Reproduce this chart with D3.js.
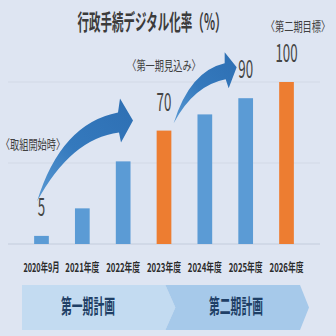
<!DOCTYPE html>
<html>
<head>
<meta charset="utf-8">
<script src="https://cdn.jsdelivr.net/npm/d3@7"></script>
<style>
  html, body { margin: 0; padding: 0; background: #dee5f2; }
  svg { display: block; }
  text { font-family: "Noto Sans CJK JP", "Noto Sans", sans-serif; }
</style>
</head>
<body>
<svg id="chart" width="336" height="336"></svg>
<script>
// Fiscal periods and digitisation rate (%)
const categories = ["2020年9月", "2021年度", "2022年度", "2023年度", "2024年度", "2025年度", "2026年度"];
const rates = [5, 22, 51, 70, 80, 90, 100];
// Milestone bars (highlighted) and their value labels
const milestones = ["2023年度", "2026年度"];
const labelled = ["2020年9月", "2023年度", "2025年度", "2026年度"];
const gridTicks = [0, 50, 100];
const notes = [
  { cat: "2020年9月", text: "〈取組開始時〉" },
  { cat: "2023年度", text: "〈第一期見込み〉" },
  { cat: "2026年度", text: "〈第二期目標〉" }
];
const phases = ["第一期計画", "第二期計画"];
const title = "行政手続デジタル化率（%）";

const W = 336, H = 336;
const svg = d3.select("#chart");

svg.append("rect").attr("width", W).attr("height", H).attr("fill", "#dee5f2");

const x = d3.scaleBand().domain(categories).range([8, 320]).padding(0.64);
const y = d3.scaleLinear().domain([0, 100]).range([244, 82]);
const cx = c => x(c) + x.bandwidth() / 2;

// Draws narrow (condensed) text: centred on (px, py), squeezed to width w.
function condensed(sel, px, py, w) {
  sel.attr("text-anchor", "middle").attr("x", 0).attr("y", 0);
  sel.each(function (d, i) {
    const node = d3.select(this);
    const natural = this.getComputedTextLength();
    const ww = typeof w === "function" ? w(d, i) : w;
    const xx = typeof px === "function" ? px(d, i) : px;
    const yy = typeof py === "function" ? py(d, i) : py;
    node.attr("transform", `translate(${xx},${yy}) scale(${ww / natural},1)`);
  });
  return sel;
}

// Title
svg.append("text")
  .attr("font-size", 22).attr("font-weight", 700)
  .attr("fill", "#3b3b3b")
  .text(title)
  .call(condensed, 152, 30, 149);

// Gridlines
svg.append("g").selectAll("line").data(gridTicks).join("line")
  .attr("x1", 8).attr("x2", 320)
  .attr("y1", d => y(d)).attr("y2", d => y(d))
  .attr("stroke", d => d === 0 ? "#c3ccdc" : "#d2d9e6")
  .attr("stroke-width", 1);

// Bars
const byCat = new Map(categories.map((c, i) => [c, rates[i]]));
svg.append("g").selectAll("rect").data(categories).join("rect")
  .attr("x", d => x(d))
  .attr("width", x.bandwidth())
  .attr("y", d => y(byCat.get(d)))
  .attr("height", d => y(0) - y(byCat.get(d)))
  .attr("fill", d => milestones.includes(d) ? "#ed7d31" : "#5b9bd5");

// Progress arrows between milestones
const defs = svg.append("defs");
const grad = defs.append("linearGradient").attr("id", "arrowFill")
  .attr("x1", "0").attr("y1", "1").attr("x2", "1").attr("y2", "0");
grad.append("stop").attr("offset", "0%").attr("stop-color", "#5a9ad4");
grad.append("stop").attr("offset", "45%").attr("stop-color", "#3479bd");
grad.append("stop").attr("offset", "100%").attr("stop-color", "#2e6fb3");

function arrow(tx, ty, s) {
  // s: offsets relative to the arrow tip
  const p = (k) => [tx + s[k][0], ty + s[k][1]];
  const t = p("tail"), uc = p("uc"), ub = p("ub"), ht = p("ht"), hb = p("hb"), lb = p("lb"), lc = p("lc");
  return `M${t}Q${uc} ${ub}L${ht}L${tx},${ty}L${hb}L${lb}Q${lc} ${t}Z`;
}
const arrowShapes = [
  { tip: [cx("2023年度") - 31, y(70) - 10],
    s: { tail: [-96, 81], uc: [-72, 3], ub: [-15, -8], ht: [-13, -22], hb: [-12, 22], lb: [-14, 12], lc: [-62, 18] } },
  { tip: [cx("2025年度") - 9, y(90) - 31],
    s: { tail: [-63, 56], uc: [-47, 4], ub: [-12, -4], ht: [-12, -15], hb: [-8, 21], lb: [-11, 12], lc: [-43, 18] } }
];
svg.append("g").selectAll("path").data(arrowShapes).join("path")
  .attr("d", d => arrow(d.tip[0], d.tip[1], d.s))
  .attr("fill", "url(#arrowFill)");

// Value labels
svg.append("g").selectAll("text").data(labelled).join("text")
  .attr("font-size", 25)
  .attr("fill", "#454545")
  .text(d => byCat.get(d))
  .call(condensed, d => cx(d), d => y(byCat.get(d)) - 20, d => String(byCat.get(d)).length * 7.4);

// Milestone notes
const noteY = { "2020年9月": 149, "2023年度": 70, "2026年度": 31 };
const noteX = { "2020年9月": 33, "2023年度": 164, "2026年度": 298 };
svg.append("g").selectAll("text").data(notes).join("text")
  .attr("font-size", 13)
  .attr("fill", "#404040")
  .text(d => d.text)
  .call(condensed, d => noteX[d.cat], d => noteY[d.cat], d => d.text.length * 9.2);

// Category axis labels
svg.append("g").selectAll("text").data(categories).join("text")
  .attr("font-size", 12).attr("font-weight", 700)
  .attr("fill", "#2b2b2b")
  .text(d => d)
  .call(condensed, d => cx(d), 272, d => d.length === 7 ? 36 : 34);

// Plan phase banner
const bTop = 285, bBot = 330, bMid = (bTop + bBot) / 2;
const split = (cx("2023年度") + cx("2024年度")) / 2 - 19;
const banners = [
  { name: phases[0], fill: "#c3dbf1",
    d: `M22,${bTop}L${split},${bTop}L${split + 10},${bMid}L${split},${bBot}L22,${bBot}Z`, tx: 88 },
  { name: phases[1], fill: "#a6c9ea",
    d: `M${split},${bTop}L300,${bTop}L309,${bMid}L300,${bBot}L${split},${bBot}L${split + 10},${bMid}Z`, tx: 236 }
];
const bg = svg.append("g");
bg.selectAll("path").data(banners).join("path")
  .attr("d", d => d.d).attr("fill", d => d.fill);
bg.selectAll("text").data(banners).join("text")
  .attr("font-size", 20).attr("font-weight", 700)
  .attr("fill", "#1f3f66")
  .text(d => d.name)
  .call(condensed, d => d.tx, 314, 54);
</script>
</body>
</html>
